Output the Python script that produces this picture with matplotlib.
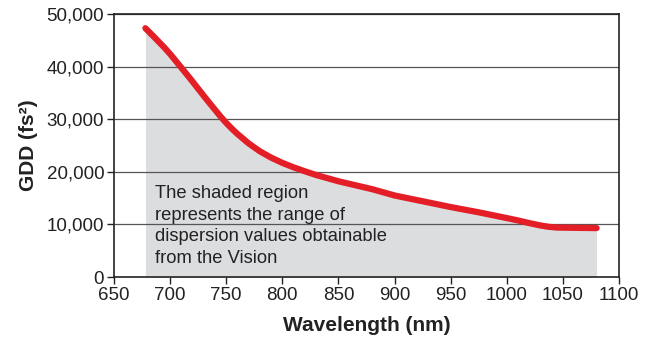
import matplotlib
matplotlib.use("Agg")
import matplotlib.pyplot as plt
from matplotlib.ticker import FuncFormatter

wavelength = [678, 685, 690, 695, 700, 705, 710, 718, 725, 732, 740, 745, 750, 755,
              760, 765, 770, 780, 790, 800, 810, 820, 830, 840, 850, 860, 870, 880,
              890, 900, 925, 950, 975, 1000, 1010, 1020, 1030, 1037, 1045, 1060, 1080]
gdd = [47300, 45800, 44700, 43600, 42400, 41100, 39800, 37700, 35800, 33900, 31800,
       30500, 29300, 28200, 27200, 26300, 25400, 23900, 22700, 21700, 20850, 20100,
       19400, 18800, 18200, 17700, 17200, 16700, 16100, 15500, 14400, 13300, 12300,
       11200, 10750, 10250, 9800, 9550, 9400, 9350, 9300]
x_ticks = [650, 700, 750, 800, 850, 900, 950, 1000, 1050, 1100]
y_ticks = [0, 10000, 20000, 30000, 40000, 50000]
note = "The shaded region\nrepresents the range of\ndispersion values obtainable\nfrom the Vision"

plt.rcParams['font.family'] = ['Liberation Sans', 'DejaVu Sans']

fig = plt.figure(figsize=(6.52, 3.45), dpi=100)
ax = fig.add_axes([0.1748, 0.1971, 0.7746, 0.7623])

ax.fill_between(wavelength, 0, gdd, color='#dcdddf', linewidth=0, zorder=1)
for yv in y_ticks[1:]:
    ax.axhline(yv, color='#555555', linewidth=0.9, zorder=2)
ax.plot(wavelength, gdd, color='#e31e26', linewidth=4.5, solid_capstyle='round',
        solid_joinstyle='round', zorder=3)

ax.set_xlim(650, 1100)
ax.set_ylim(0, 50000)
ax.set_xticks(x_ticks)
ax.set_yticks(y_ticks)
ax.yaxis.set_major_formatter(FuncFormatter(lambda v, p: f"{int(v):,}"))
ax.tick_params(axis='both', direction='out', length=5, width=1, colors='#222222',
               labelsize=13.5, labelcolor='#222222', pad=2)
for s in ax.spines.values():
    s.set_color('#222222')
    s.set_linewidth(1.2)

ax.set_xlabel("Wavelength (nm)", fontsize=15, fontweight='bold', color='#222222', labelpad=9)
ax.set_ylabel("GDD (fs²)", fontsize=15, fontweight='bold', color='#222222', labelpad=6)

ax.text(686.5, 17500, note, fontsize=13.2, color='#222222', va='top', ha='left',
        linespacing=1.36, zorder=4)

fig.savefig("out.png", dpi=100)
